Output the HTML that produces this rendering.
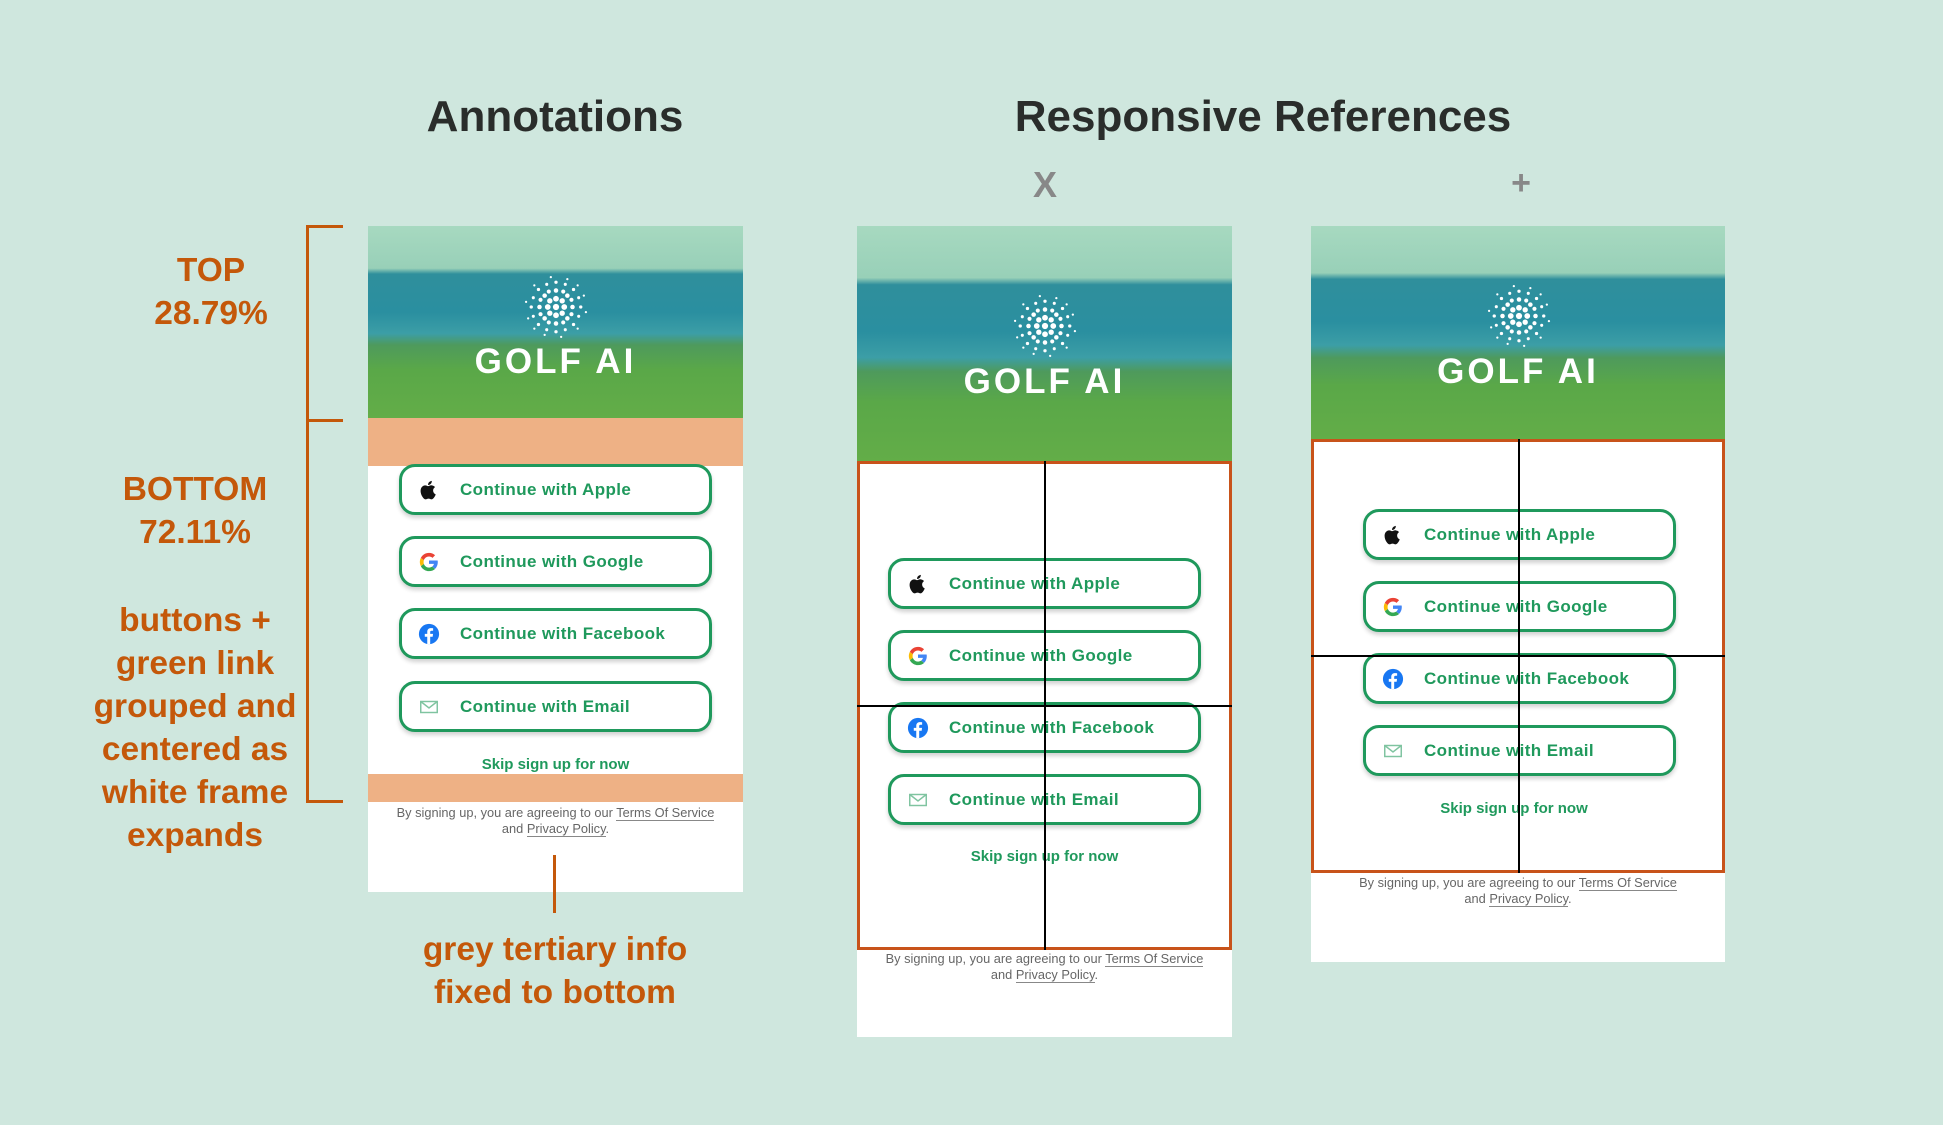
<!DOCTYPE html>
<html><head><meta charset="utf-8"><style>
*{margin:0;padding:0;box-sizing:border-box}
body{width:1943px;height:1125px;background:#cfe7de;position:relative;overflow:hidden;font-family:"Liberation Sans",sans-serif}
.a{position:absolute}
.title{font-weight:bold;color:#2a2d2b;font-size:44px;text-align:center}
.org{color:#c4580a;font-weight:bold;font-size:33.5px;text-align:center;line-height:43px}
.panel{position:absolute;background:#fff}
.hdr{position:absolute;left:0;top:0;width:100%;overflow:hidden;
background:linear-gradient(180deg,#a7d9c0 0%,#98d0b8 22%,#2f8f9c 25%,#2a8fa0 45%,#3c9ea6 56%,#4e9a5c 62%,#5aa848 75%,#63ad48 100%)}
.golf{position:absolute;width:100%;text-align:center;color:#fff;font-weight:bold;font-size:35px;letter-spacing:3px}
.btn{position:absolute;border:3px solid #1f995c;border-radius:16px;height:51px;background:#fff;box-shadow:0 3px 4px rgba(0,0,0,.18)}
.btn span{position:absolute;left:58px;top:13px;color:#1f995c;font-weight:bold;font-size:17px;letter-spacing:.4px}
.ic{position:absolute;left:16px;top:12px;width:22px;height:22px}
.skip{position:absolute;width:100%;text-align:center;color:#1f995c;font-weight:bold;font-size:15px}
.terms{position:absolute;width:100%;text-align:center;color:#666;font-size:12.8px;line-height:16px}
.terms u{text-decoration:none;border-bottom:1px solid #888}
.frame{position:absolute;border:3px solid #c8531a}
</style></head><body>

<div class="a title" style="left:355px;top:92px;width:400px">Annotations</div>
<div class="a title" style="left:963px;top:92px;width:600px">Responsive References</div>
<div class="a" style="left:1025px;top:164px;width:40px;text-align:center;color:#888;font-size:36px;font-weight:bold">X</div>
<div class="a" style="left:1501px;top:164px;width:40px;text-align:center;color:#888;font-size:34px;font-weight:bold">+</div>

<!-- bracket -->
<div class="a" style="left:306px;top:225px;width:3px;height:578px;background:#c4580a"></div>
<div class="a" style="left:306px;top:225px;width:37px;height:3px;background:#c4580a"></div>
<div class="a" style="left:306px;top:419px;width:37px;height:3px;background:#c4580a"></div>
<div class="a" style="left:306px;top:800px;width:37px;height:3px;background:#c4580a"></div>
<div class="a org" style="left:111px;top:249px;width:200px">TOP<br>28.79%</div>
<div class="a org" style="left:80px;top:468px;width:230px">BOTTOM<br>72.11%</div>
<div class="a org" style="left:75px;top:599px;width:240px">buttons +<br>green link<br>grouped and<br>centered as<br>white frame<br>expands</div>
<div class="a org" style="left:355px;top:928px;width:400px">grey tertiary info<br>fixed to bottom</div>

<svg width="0" height="0" style="position:absolute">
<defs>
<symbol id="logo" viewBox="-32 -32 64 64">
<g fill="#fff">
<circle cx="0" cy="0" r="3"/><circle cx="-8" cy="0" r="2.8"/><circle cx="8" cy="0" r="2.8"/><circle cx="0" cy="-8" r="2.8"/><circle cx="0" cy="8" r="2.8"/>
<circle cx="-6" cy="-6" r="2.6"/><circle cx="6" cy="-6" r="2.6"/><circle cx="-6" cy="6" r="2.6"/><circle cx="6" cy="6" r="2.6"/>
<circle cx="-16" cy="0" r="2.2"/><circle cx="16" cy="0" r="2.2"/><circle cx="0" cy="-16" r="2.2"/><circle cx="0" cy="16" r="2.2"/>
<circle cx="-11" cy="-11" r="2.2"/><circle cx="11" cy="-11" r="2.2"/><circle cx="-11" cy="11" r="2.2"/><circle cx="11" cy="11" r="2.2"/>
<circle cx="-15" cy="-7" r="2"/><circle cx="15" cy="-7" r="2"/><circle cx="-15" cy="7" r="2"/><circle cx="15" cy="7" r="2"/>
<circle cx="-7" cy="-15" r="2"/><circle cx="7" cy="-15" r="2"/><circle cx="-7" cy="15" r="2"/><circle cx="7" cy="15" r="2"/>
<circle cx="-24" cy="0" r="1.6"/><circle cx="24" cy="0" r="1.6"/><circle cx="0" cy="-24" r="1.6"/><circle cx="0" cy="24" r="1.6"/>
<circle cx="-17" cy="-17" r="1.6"/><circle cx="17" cy="-17" r="1.6"/><circle cx="-17" cy="17" r="1.6"/><circle cx="17" cy="17" r="1.6"/>
<circle cx="-22" cy="-9" r="1.5"/><circle cx="22" cy="-9" r="1.5"/><circle cx="-22" cy="9" r="1.5"/><circle cx="22" cy="9" r="1.5"/>
<circle cx="-9" cy="-22" r="1.5"/><circle cx="9" cy="-22" r="1.5"/><circle cx="-9" cy="22" r="1.5"/><circle cx="9" cy="22" r="1.5"/>
<circle cx="-29" cy="-5" r="1.1"/><circle cx="29" cy="5" r="1.1"/><circle cx="-5" cy="-29" r="1.1"/><circle cx="5" cy="29" r="1.1"/>
<circle cx="-27" cy="11" r="1.1"/><circle cx="27" cy="-11" r="1.1"/><circle cx="11" cy="-27" r="1.1"/><circle cx="-11" cy="27" r="1.1"/>
<circle cx="-21" cy="-21" r="1.1"/><circle cx="21" cy="21" r="1.1"/><circle cx="21" cy="-21" r="1.1"/><circle cx="-21" cy="21" r="1.1"/>
</g></symbol>
<symbol id="apple" viewBox="0 0 24 24"><path fill="#111" d="M16.5 12.6c0-2.5 2-3.6 2.1-3.7-1.2-1.7-3-1.9-3.6-2-1.5-.2-3 .9-3.8.9-.8 0-2-.9-3.3-.9-1.7 0-3.3 1-4.2 2.5-1.8 3.1-.5 7.7 1.3 10.2.9 1.2 1.9 2.6 3.2 2.6 1.3-.1 1.8-.8 3.3-.8 1.6 0 2 .8 3.3.8 1.4 0 2.3-1.3 3.1-2.5 1-1.4 1.4-2.8 1.4-2.9-.1 0-2.8-1.1-2.8-4.2zM14 5.2c.7-.8 1.2-2 1-3.2-1 .1-2.2.7-3 1.5-.6.7-1.2 1.9-1 3.1 1.1.1 2.3-.6 3-1.4z"/></symbol>
<symbol id="goog" viewBox="0 0 24 24"><path fill="#4285f4" d="M21.6 12.2c0-.7-.1-1.3-.2-1.9H12v3.7h5.4c-.2 1.2-1 2.3-2 3l3.2 2.5c1.9-1.7 3-4.3 3-7.3z"/><path fill="#34a853" d="M12 22c2.7 0 5-.9 6.6-2.4l-3.2-2.5c-.9.6-2 1-3.4 1-2.6 0-4.8-1.8-5.6-4.1L3.1 16.5C4.7 19.8 8.1 22 12 22z"/><path fill="#fbbc05" d="M6.4 14c-.2-.6-.3-1.3-.3-2s.1-1.4.3-2L3.1 7.5C2.4 8.9 2 10.4 2 12s.4 3.1 1.1 4.5z"/><path fill="#ea4335" d="M12 6c1.5 0 2.8.5 3.8 1.5l2.8-2.8C16.9 3 14.7 2 12 2 8.1 2 4.7 4.2 3.1 7.5L6.4 10C7.2 7.7 9.4 6 12 6z"/></symbol>
<symbol id="fb" viewBox="0 0 24 24"><circle cx="12" cy="12" r="11" fill="#1877f2"/><path fill="#fff" d="M13.3 23v-8h2.7l.4-3.1h-3.1V10c0-.9.3-1.5 1.6-1.5h1.6V5.7c-.3 0-1.3-.1-2.4-.1-2.4 0-4 1.4-4 4.1v2.2H7.4V15h2.7v8z"/></symbol>
<symbol id="mail" viewBox="0 0 24 24"><rect x="3" y="6" width="18" height="12" fill="none" stroke="#7fc4a0" stroke-width="1.6"/><path d="M3 6l9 7 9-7" fill="none" stroke="#7fc4a0" stroke-width="1.6"/></symbol>
</defs></svg>

<!-- Panel 1 -->
<div class="panel" style="left:368px;top:226px;width:375px;height:666px">
  <div class="hdr" style="height:192px"></div>
  <svg class="a" style="left:155px;top:48px" width="66" height="66"><use href="#logo"/></svg>
  <div class="golf" style="top:116px">GOLF AI</div>
  <div class="a" style="left:0;top:192px;width:375px;height:48px;background:#eeb185"></div>
  <div class="btn" style="left:31px;top:238px;width:313px"><svg class="ic"><use href="#apple"/></svg><span>Continue with Apple</span></div>
  <div class="btn" style="left:31px;top:310px;width:313px"><svg class="ic"><use href="#goog"/></svg><span>Continue with Google</span></div>
  <div class="btn" style="left:31px;top:382px;width:313px"><svg class="ic"><use href="#fb"/></svg><span>Continue with Facebook</span></div>
  <div class="btn" style="left:31px;top:455px;width:313px"><svg class="ic"><use href="#mail"/></svg><span>Continue with Email</span></div>
  <div class="skip" style="top:530px">Skip sign up for now</div>
  <div class="a" style="left:0;top:548px;width:375px;height:28px;background:#eeb185"></div>
  <div class="terms" style="top:579px">By signing up, you are agreeing to our <u>Terms Of Service</u><br>and <u>Privacy Policy</u>.</div>
</div>
<div class="a" style="left:553px;top:855px;width:3px;height:58px;background:#c4580a"></div>

<!-- Panel 2 -->
<div class="panel" style="left:857px;top:226px;width:375px;height:811px">
  <div class="hdr" style="height:235px"></div>
  <svg class="a" style="left:155px;top:67px" width="66" height="66"><use href="#logo"/></svg>
  <div class="golf" style="top:136px">GOLF AI</div>
  <div class="frame" style="left:0;top:235px;width:375px;height:489px"></div>
  <div class="btn" style="left:31px;top:332px;width:313px"><svg class="ic"><use href="#apple"/></svg><span>Continue with Apple</span></div>
  <div class="btn" style="left:31px;top:404px;width:313px"><svg class="ic"><use href="#goog"/></svg><span>Continue with Google</span></div>
  <div class="btn" style="left:31px;top:476px;width:313px"><svg class="ic"><use href="#fb"/></svg><span>Continue with Facebook</span></div>
  <div class="btn" style="left:31px;top:548px;width:313px"><svg class="ic"><use href="#mail"/></svg><span>Continue with Email</span></div>
  <div class="skip" style="top:622px">Skip sign up for now</div>
  <div class="a" style="left:187px;top:235px;width:1.5px;height:489px;background:#000"></div>
  <div class="a" style="left:0;top:479px;width:375px;height:1.5px;background:#000"></div>
  <div class="terms" style="top:725px">By signing up, you are agreeing to our <u>Terms Of Service</u><br>and <u>Privacy Policy</u>.</div>
</div>

<!-- Panel 3 -->
<div class="panel" style="left:1311px;top:226px;width:414px;height:736px">
  <div class="hdr" style="height:213px"></div>
  <svg class="a" style="left:175px;top:57px" width="66" height="66"><use href="#logo"/></svg>
  <div class="golf" style="top:126px">GOLF AI</div>
  <div class="frame" style="left:0;top:213px;width:414px;height:434px"></div>
  <div class="btn" style="left:52px;top:283px;width:313px"><svg class="ic"><use href="#apple"/></svg><span>Continue with Apple</span></div>
  <div class="btn" style="left:52px;top:355px;width:313px"><svg class="ic"><use href="#goog"/></svg><span>Continue with Google</span></div>
  <div class="btn" style="left:52px;top:427px;width:313px"><svg class="ic"><use href="#fb"/></svg><span>Continue with Facebook</span></div>
  <div class="btn" style="left:52px;top:499px;width:313px"><svg class="ic"><use href="#mail"/></svg><span>Continue with Email</span></div>
  <div class="skip" style="top:574px;left:-4px">Skip sign up for now</div>
  <div class="a" style="left:207px;top:213px;width:1.5px;height:434px;background:#000"></div>
  <div class="a" style="left:0;top:429px;width:414px;height:1.5px;background:#000"></div>
  <div class="terms" style="top:649px">By signing up, you are agreeing to our <u>Terms Of Service</u><br>and <u>Privacy Policy</u>.</div>
</div>

</body></html>
